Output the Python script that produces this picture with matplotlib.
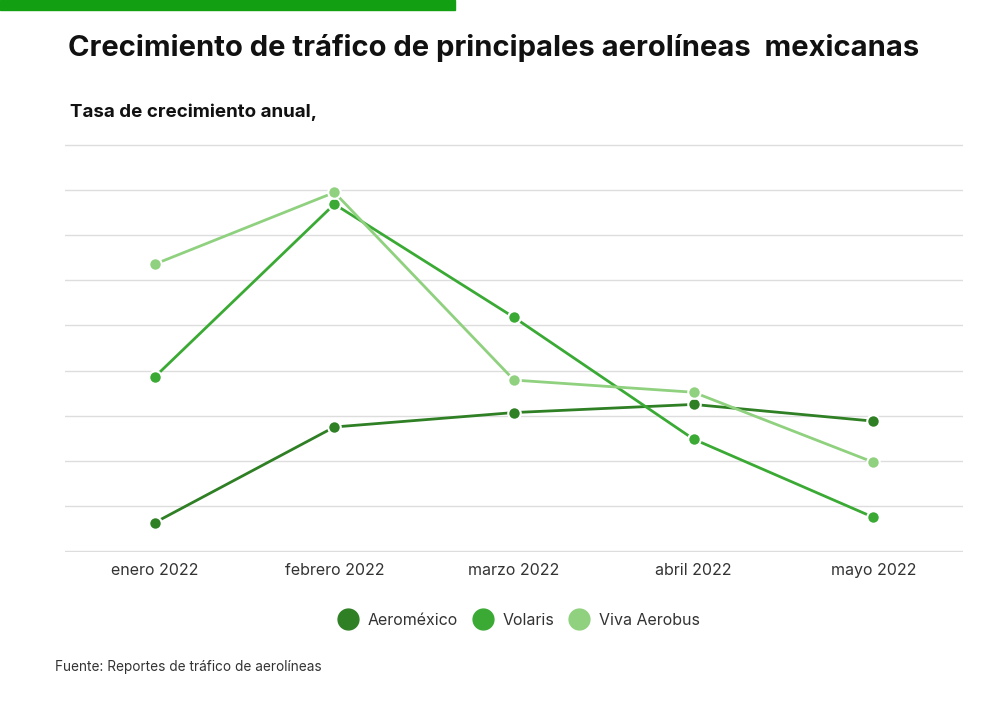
import matplotlib.pyplot as plt
import matplotlib.patches as patches
import numpy as np

meses = ["enero 2022", "febrero 2022", "marzo 2022", "abril 2022", "mayo 2022"]
aeromexico = [0.63, 2.75, 3.07, 3.25, 2.88]
volaris = [3.86, 7.69, 5.18, 2.48, 0.75]
viva = [6.36, 7.95, 3.79, 3.52, 1.97]

nombres = ["Aeroméxico", "Volaris", "Viva Aerobus"]
colores = ["#2f7f25", "#3aaa35", "#8fd17f"]

plt.rcParams['font.family'] = ['Inter', 'DejaVu Sans']

fig = plt.figure(figsize=(10, 7.01), dpi=100)

# barra verde de arriba
fig.patches.append(patches.Rectangle((0, 0.986), 0.455, 0.014, transform=fig.transFigure,
                                     color="#12a012", zorder=5))

fig.text(0.068, 0.932, "Crecimiento de tráfico de principales aerolíneas  mexicanas",
         fontsize=21, fontweight="bold", color="#111111", va="center", ha="left")
fig.text(0.07, 0.84, "Tasa de crecimiento anual,", fontsize=13.5, fontweight="bold",
         color="#111111", va="center", ha="left")

ax = fig.add_axes([0.065, 0.212, 0.898, 0.583])
x = np.arange(len(meses))

for serie, nombre, color in zip([aeromexico, volaris, viva], nombres, colores):
    ax.plot(x, serie, color=color, linewidth=2, marker="o", markersize=9,
            markeredgecolor="white", markeredgewidth=1.5, label=nombre, zorder=3,
            clip_on=False)

ax.set_xlim(-0.5, 4.5)
ax.set_ylim(-0.03, 9.03)
ax.set_yticks(np.arange(0, 10, 1))
ax.yaxis.grid(True, color="#dddddd", linewidth=1)
ax.set_axisbelow(True)
ax.tick_params(axis="y", length=0, labelleft=False)
ax.tick_params(axis="x", length=0, pad=8, labelsize=11.5, labelcolor="#333333")
ax.set_xticks(x)
ax.set_xticklabels(meses)
for s in ax.spines.values():
    s.set_visible(False)

leg = fig.legend(handles=[plt.Line2D([], [], linestyle="none", marker="o", markersize=15,
                                     color=c, label=n) for c, n in zip(colores, nombres)],
                 loc="center", bbox_to_anchor=(0.519, 0.115), ncol=3, frameon=False,
                 fontsize=11.5, handletextpad=0.6, columnspacing=1.0, handlelength=1.2)
for t in leg.get_texts():
    t.set_color("#333333")

fig.text(0.055, 0.048, "Fuente: Reportes de tráfico de aerolíneas", fontsize=9.8,
         color="#333333", va="center", ha="left")

fig.savefig("out.png", dpi=100, facecolor="white")
